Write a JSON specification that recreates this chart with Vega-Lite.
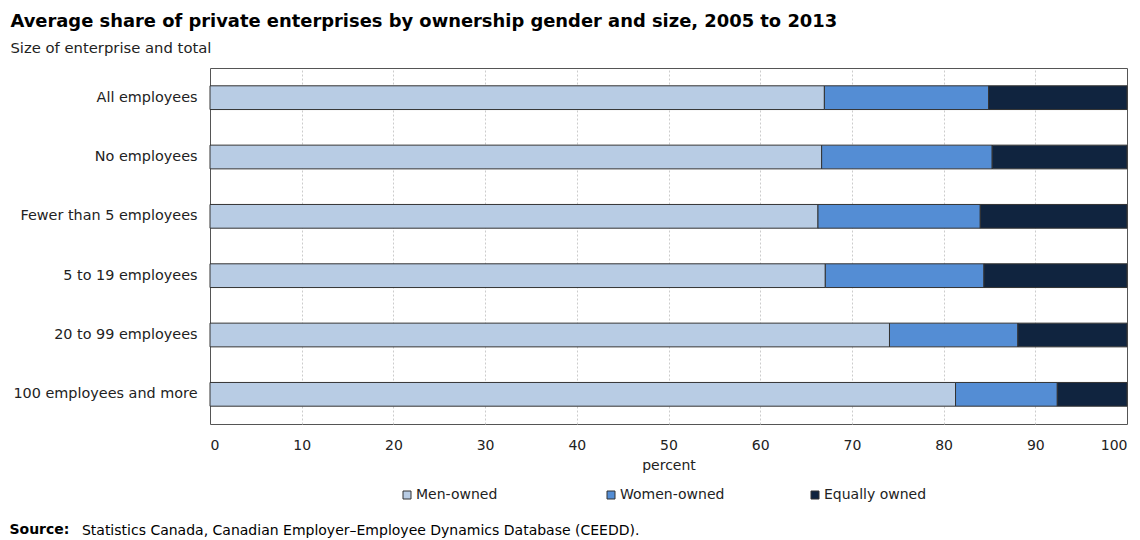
{
  "$schema": "https://vega.github.io/schema/vega-lite/v6.json",
  "padding": {"left": 9, "top": 12, "right": 11, "bottom": 5},
  "background": "white",
  "title": {
    "text": "Average share of private enterprises by ownership gender and size, 2005 to 2013",
    "subtitle": "Size of enterprise and total",
    "anchor": "start",
    "dx": 1,
    "font": "DejaVu Sans",
    "fontSize": 17.9,
    "fontWeight": "bold",
    "color": "#000000",
    "subtitleFont": "DejaVu Sans",
    "subtitleFontSize": 14.8,
    "subtitleColor": "#222222",
    "subtitlePadding": 10,
    "offset": 12
  },
  "config": {
    "font": "DejaVu Sans",
    "view": {"stroke": "#555555", "strokeWidth": 1},
    "concat": {"spacing": 0}
  },
  "vconcat": [
    {
      "title": {
        "text": "Source:",
        "orient": "bottom",
        "anchor": "start",
        "dx": -3,
        "font": "DejaVu Sans",
        "fontSize": 14,
        "fontWeight": "bold",
        "color": "#000000",
        "offset": 0,
        "dy": -16
      },
      "vconcat": [
        {
          "title": {
            "text": "Statistics Canada, Canadian Employer–Employee Dynamics Database (CEEDD).",
            "orient": "bottom",
            "anchor": "start",
            "font": "DejaVu Sans",
            "fontSize": 14,
            "fontWeight": "normal",
            "color": "#000000",
            "dx": 69,
            "offset": 52
          },
          "width": 917,
          "height": 356,
          "data": {
            "values": [
              {"size": "All employees", "owner": "Men-owned", "ord": 1, "share": 67.0},
              {"size": "All employees", "owner": "Women-owned", "ord": 2, "share": 17.9},
              {"size": "All employees", "owner": "Equally owned", "ord": 3, "share": 15.1},
              {"size": "No employees", "owner": "Men-owned", "ord": 1, "share": 66.7},
              {"size": "No employees", "owner": "Women-owned", "ord": 2, "share": 18.6},
              {"size": "No employees", "owner": "Equally owned", "ord": 3, "share": 14.7},
              {"size": "Fewer than 5 employees", "owner": "Men-owned", "ord": 1, "share": 66.3},
              {"size": "Fewer than 5 employees", "owner": "Women-owned", "ord": 2, "share": 17.7},
              {"size": "Fewer than 5 employees", "owner": "Equally owned", "ord": 3, "share": 16.0},
              {"size": "5 to 19 employees", "owner": "Men-owned", "ord": 1, "share": 67.1},
              {"size": "5 to 19 employees", "owner": "Women-owned", "ord": 2, "share": 17.3},
              {"size": "5 to 19 employees", "owner": "Equally owned", "ord": 3, "share": 15.6},
              {"size": "20 to 99 employees", "owner": "Men-owned", "ord": 1, "share": 74.1},
              {"size": "20 to 99 employees", "owner": "Women-owned", "ord": 2, "share": 14.0},
              {"size": "20 to 99 employees", "owner": "Equally owned", "ord": 3, "share": 11.9},
              {"size": "100 employees and more", "owner": "Men-owned", "ord": 1, "share": 81.3},
              {"size": "100 employees and more", "owner": "Women-owned", "ord": 2, "share": 11.1},
              {"size": "100 employees and more", "owner": "Equally owned", "ord": 3, "share": 7.6}
            ]
          },
          "mark": {"type": "bar", "stroke": "#333333", "strokeWidth": 1},
          "encoding": {
            "y": {
              "field": "size",
              "type": "nominal",
              "sort": null,
              "scale": {"paddingInner": 0.6, "paddingOuter": 0.3},
              "axis": {
                "title": null,
                "ticks": false,
                "domain": false,
                "labelPadding": 13,
                "labelFont": "DejaVu Sans",
                "labelFontSize": 14.4,
                "labelColor": "#222222",
                "labelLimit": 400
              }
            },
            "x": {
              "field": "share",
              "type": "quantitative",
              "stack": "zero",
              "scale": {"domain": [0, 100], "nice": false},
              "axis": {
                "title": "percent",
                "values": [0, 10, 20, 30, 40, 50, 60, 70, 80, 90, 100],
                "ticks": false,
                "domain": false,
                "labelPadding": 14,
                "labelFont": "DejaVu Sans",
                "labelFontSize": 14,
                "labelColor": "#222222",
                "titleFont": "DejaVu Sans",
                "titleFontSize": 14,
                "titleFontWeight": "normal",
                "titleColor": "#222222",
                "titlePadding": 6,
                "grid": true,
                "gridColor": "#cccccc",
                "gridDash": [2, 2],
                "gridWidth": 1,
                "gridOpacity": {
                  "condition": {"test": "datum.value == 0 || datum.value == 100", "value": 0},
                  "value": 1
                }
              }
            },
            "color": {
              "field": "owner",
              "type": "nominal",
              "scale": {
                "domain": ["Men-owned", "Women-owned", "Equally owned"],
                "range": ["#b8cce4", "#548dd4", "#10243f"]
              },
              "legend": {
                "title": null,
                "orient": "none",
                "direction": "horizontal",
                "legendX": 190,
                "legendY": 420,
                "symbolType": "square",
                "symbolSize": 64,
                "symbolStrokeColor": "#333333",
                "symbolStrokeWidth": 1,
                "labelFont": "DejaVu Sans",
                "labelFontSize": 14,
                "labelColor": "#222222",
                "labelOffset": 2,
                "gridAlign": "all",
                "columnPadding": 83,
                "columns": 3
              }
            },
            "order": {"field": "ord", "type": "quantitative"}
          }
        }
      ]
    }
  ]
}
